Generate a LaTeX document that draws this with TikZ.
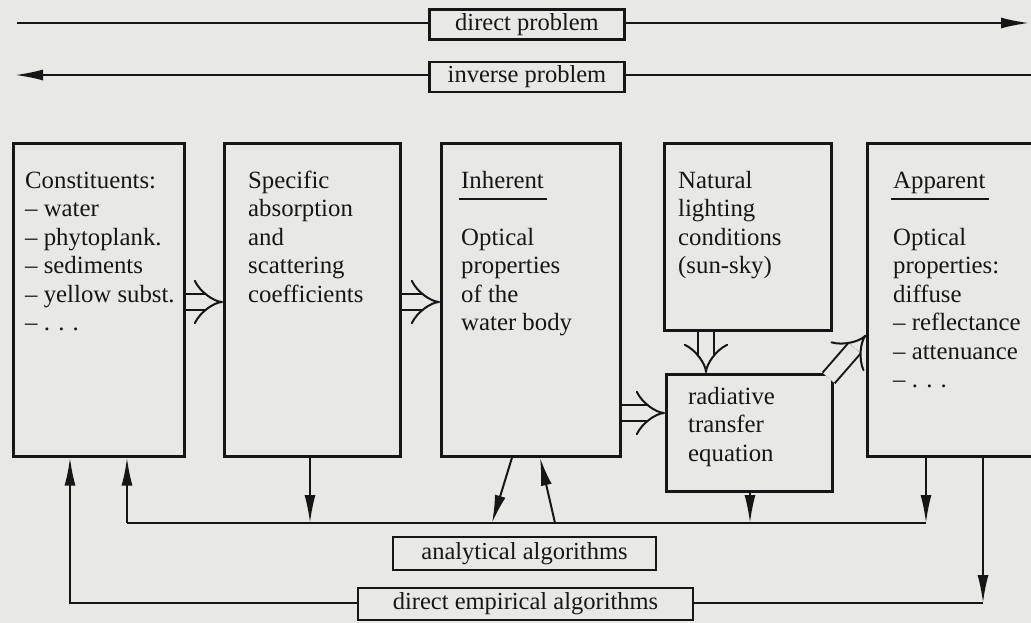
\documentclass[tikz,border=0pt]{standalone}
\usepackage{fontspec}
\setmainfont{Liberation Serif}
\usetikzlibrary{arrows.meta,positioning,calc}
\definecolor{paper}{RGB}{232,232,230}
\definecolor{ink}{RGB}{22,22,22}

\begin{document}
\begin{tikzpicture}[x=1pt,y=1pt,yscale=-1,xscale=1,
	box/.style={draw=ink,line width=2.6pt,fill=paper,anchor=north west,inner sep=0pt},
	lbl/.style={draw=ink,line width=2.6pt,fill=paper,inner sep=0pt,minimum height=30pt,text=ink,font=\fontsize{24.5}{28}\selectfont},
	txt/.style={anchor=base west,inner sep=0pt,align=left,text=ink,font=\fontsize{24.8}{28.5}\selectfont},
	link/.style={draw=ink,line width=2pt},
	arr/.style={link,-{Latex[length=28pt,width=11pt]}},
	hollow/.style={draw=ink,line width=2pt,double=paper,double distance=14pt,-{Implies[length=13pt,width=34pt]}}]
	\useasboundingbox (0,0) rectangle (1031,623);
	\clip (0,0) rectangle (1031,623);
	\fill[paper] (0,0) rectangle (1031,623);
	\node[box,minimum width=171pt,minimum height=313pt] (cons) at (12,142) {};
	\node[box,minimum width=176pt,minimum height=313pt] (spec) at (223,142) {};
	\node[box,minimum width=179pt,minimum height=313pt] (iop) at (440,142) {};
	\node[box,minimum width=167pt,minimum height=187pt] (light) at (663,142) {};
	\node[box,minimum width=166pt,minimum height=117pt] (rte) at (665,373) {};
	\node[box,minimum width=185pt,minimum height=313pt] (aop) at (866,142) {};
	\node[txt] (consT) at (25,330.5) {Constituents:\\– water\\– phytoplank.\\– sediments\\– yellow subst.\\– . . .};
	\node[txt] (specT) at (248,302) {Specific\\absorption\\and\\scattering\\coefficients};
	\node[txt] (inh) at (461,188) {Inherent};
	\node[txt] (iopT) at (461,330.5) {Optical\\properties\\of the\\water body};
	\node[txt] (lightT) at (678,273.5) {Natural\\lighting\\conditions\\(sun-sky)};
	\node[txt] (rteT) at (688,461) {radiative\\transfer\\equation};
	\node[txt] (app) at (893,188) {Apparent};
	\node[txt] (aopT) at (893,387.5) {Optical\\properties:\\diffuse\\– reflectance\\– attenuance\\– . . .};
	\draw[link] ($(inh.base west)+(-2,11)$) -- ($(inh.base east)+(3,11)$);
	\draw[link] ($(app.base west)+(-2,11)$) -- ($(app.base east)+(3,11)$);
	\draw[hollow] (cons.east |- 0,302) -- (spec.west |- 0,302);
	\draw[hollow] (spec.east |- 0,302) -- (iop.west |- 0,302);
	\draw[hollow] (iop.east |- 0,413) -- (rte.west |- 0,413);
	\draw[hollow] (light.south -| 706,0) -- (rte.north -| 706,0);
	\draw[hollow] ($(rte.north east)+(-5,5)$) -- (aop.west |- 0,335);
	\coordinate (dL) at (17,23);
	\coordinate (dR) at (1029,23);
	\coordinate (iR) at (1035,75);
	\coordinate (iL) at (15,75);
	\draw[arr] (dL) -- (dR);
	\draw[arr] (iR) -- (iL);
	\node[lbl,minimum width=195pt] (dprob) at (527,24.5) {direct problem};
	\node[lbl,minimum width=195pt] (iprob) at (527,77) {inverse problem};
	\coordinate (aL) at (127,523);
	\coordinate (aR) at (926,523);
	\draw[link] (aL) -- (aR);
	\draw[arr] (aL) -- (cons.south -| aL);
	\draw[arr] (spec.south -| 310,0) -- (aL -| 310,0);
	\draw[arr] (iop.south -| 512,0) -- (aL -| 492,0);
	\draw[arr] (aL -| 555,0) -- (iop.south -| 540,0);
	\draw[arr] (rte.south -| 750,0) -- (aL -| 750,0);
	\draw[arr] (aop.south -| aR) -- (aR);
	\node[lbl,minimum width=263pt,minimum height=33pt] (anal) at (524.5,553.5) {analytical algorithms};
	\coordinate (eL) at (70,603);
	\coordinate (eR) at (983,603);
	\draw[arr] (aop.south -| eR) -- (eR);
	\draw[arr] (eR) -- (eL) -- (cons.south -| eL);
	\node[lbl,minimum width=335pt,minimum height=32pt] (emp) at (525.5,604) {direct empirical algorithms};
\end{tikzpicture}
\end{document}
